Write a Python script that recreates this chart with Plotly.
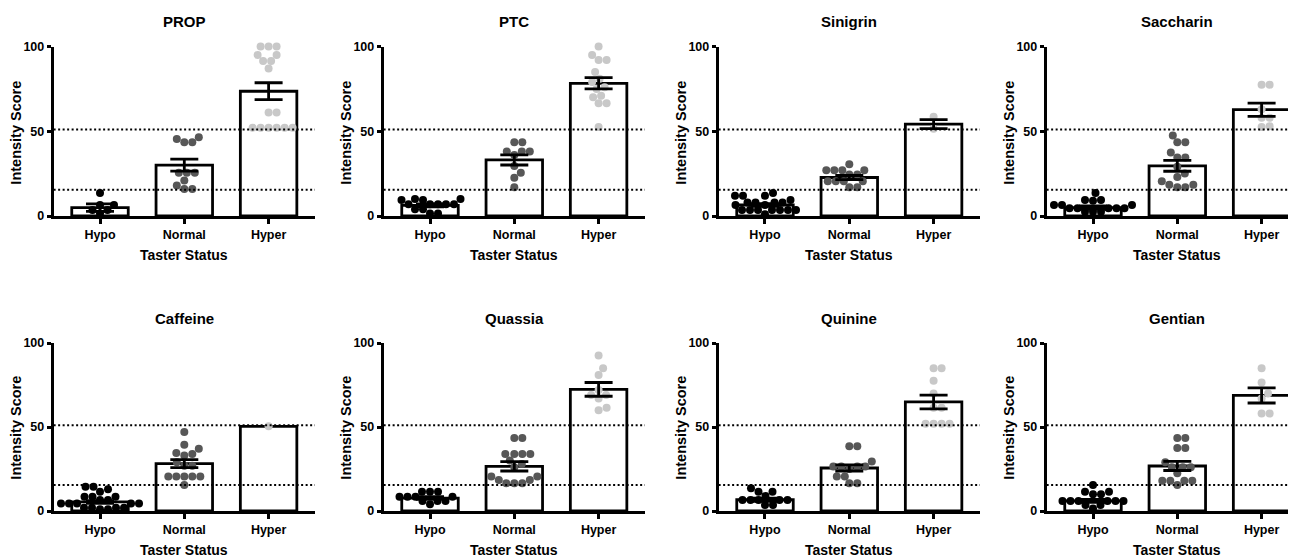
import plotly.graph_objects as go

W, H = 1296, 558

categories = ["Hypo", "Normal", "Hyper"]
compounds = ["PROP", "PTC", "Sinigrin", "Saccharin", "Caffeine", "Quassia", "Quinine", "Gentian"]

# Bar heights (means) and SEM, in compound order
mean_hypo = [4.9, 6.3, 6.5, 4.9, 5.4, 7.7, 6.7, 6.0]
mean_normal = [30.0, 33.1, 22.7, 29.6, 28.2, 26.6, 25.6, 26.8]
mean_hyper = [73.6, 78.3, 54.2, 62.7, 50.4, 72.4, 64.9, 68.8]
sem_hypo = [2.2, 0.9, 0.8, 1.0, 0.8, 0.8, 0.9, 0.9]
sem_normal = [3.5, 3.0, 1.2, 3.2, 2.4, 2.8, 1.8, 2.7]
sem_hyper = [5.0, 3.3, 2.6, 3.9, None, 4.1, 4.1, 4.5]

# Individual scores
prop_hypo = [13.5, 6.5, 6.5, 3.5, 3.5, 1.5]
prop_normal = [46.5, 45.5, 43.5, 43.5, 25.5, 25.5, 25.5, 21, 18, 16, 16]
prop_hyper = [100, 100, 100, 95, 95, 91.5, 91.5, 87, 61, 61, 52, 52, 52, 52, 52, 52]

ptc_hypo = [10, 10, 9.5, 9.5, 7, 7, 7, 7, 7, 4, 4, 1.5, 1.5]
ptc_normal = [43.5, 43.5, 38, 38, 38, 36, 29.5, 25.5, 22.5, 17]
ptc_hyper = [100, 95, 92, 92, 85, 81, 79, 76, 75, 71, 70, 66.5, 66.5, 52.5]

sinigrin_hypo = [13.5, 12, 12, 12, 9.5, 8, 8, 8, 8, 6.5, 6.5, 3.5, 3.5, 3.5, 3.5, 3.5, 3.5, 3.5, 1]
sinigrin_normal = [30.5, 27, 27, 27, 27, 24.5, 24.5, 20.5, 20.5, 20.5, 20.5, 17, 17]
sinigrin_hyper = [58.5, 51.5]

saccharin_hypo = [13.5, 9.5, 9.5, 9, 6.5, 6.5, 6.5, 4.5, 4.5, 4.5, 4.5, 4.5, 2.5, 2.5, 2.5]
saccharin_normal = [47.5, 43.5, 43.5, 37.5, 34.5, 34.5, 29, 25, 23, 20.5, 18.5, 18.5, 17, 17]
saccharin_hyper = [77.5, 77.5, 63, 58, 58, 53, 52.5]

caffeine_hypo = [14.5, 14.5, 13, 11.5, 8.5, 8.5, 8.5, 6.5, 6.5, 4.5, 4.5, 4.5, 4.5, 4.5, 4.5, 2, 2, 2, 2, 1, 1]
caffeine_normal = [47, 39.5, 37, 34.5, 34, 33, 29, 27, 27, 20.5, 20.5, 20.5, 20.5, 20.5, 15.5]
caffeine_hyper = [50.5]

quassia_hypo = [11.5, 11.5, 11.5, 8.5, 8.5, 8.5, 8.5, 6, 6, 6, 4]
quassia_normal = [43.5, 43.5, 34, 34, 34, 34, 30, 28, 26, 20.5, 20.5, 18.5, 18.5, 16.5, 16.5, 16.5]
quassia_hyper = [92.5, 85, 81, 72, 69, 69, 67, 61.5, 60]

quinine_hypo = [13.5, 11.5, 11.5, 9, 6.5, 6.5, 6.5, 6.5, 6.5, 3.5, 3.5]
quinine_normal = [38.5, 38.5, 29.5, 26.5, 26.5, 26.5, 26.5, 25, 20.5, 20.5, 16.5, 16.5]
quinine_hyper = [85, 85, 77.5, 70, 61.5, 61.5, 52, 52, 52, 52]

gentian_hypo = [15.5, 11.5, 11.5, 10, 10, 6, 6, 6, 6, 6, 6, 3.5, 3.5, 1.5]
gentian_normal = [43.5, 43.5, 37.5, 37.5, 29, 26, 26, 26, 22.5, 18, 18, 18, 18, 15.5]
gentian_hyper = [85, 76.5, 70, 67, 58, 58]

cutoff_lines = [51, 15.5]
y_ticks = [0, 50, 100]
x_title = "Taster Status"
y_title = "Intensity Score"

scores = [
    [prop_hypo, prop_normal, prop_hyper],
    [ptc_hypo, ptc_normal, ptc_hyper],
    [sinigrin_hypo, sinigrin_normal, sinigrin_hyper],
    [saccharin_hypo, saccharin_normal, saccharin_hyper],
    [caffeine_hypo, caffeine_normal, caffeine_hyper],
    [quassia_hypo, quassia_normal, quassia_hyper],
    [quinine_hypo, quinine_normal, quinine_hyper],
    [gentian_hypo, gentian_normal, gentian_hyper],
]
means = [list(t) for t in zip(mean_hypo, mean_normal, mean_hyper)]
sems = [list(t) for t in zip(sem_hypo, sem_normal, sem_hyper)]

dot_colors = ["#000000", "#575757", "#c8c8c8"]
FONT = "Arial, Liberation Sans, sans-serif"

# ---- layout geometry (screen pixels; the page body adds an 8px margin) ----
OFF = 8
FW, FH = W - OFF, H - OFF
cat_px = 84.3
hypo_centers = [100, 430, 765, 1093]
rows_px = [(46.5, 216), (343, 511)]
title_y = [21, 318]
xtitle_y = [255, 550]
ytitle_y = [133, 428]


def fx(px):
    return (px - OFF) / FW


def fy(py):
    return 1 - (py - OFF) / FH


def swarm_offsets(vals, ppy, d=8.0, step=0.5):
    """Compact beeswarm (pixel offsets): each point goes as close to the centre as it can."""
    idx = sorted(range(len(vals)), key=lambda i: vals[i])
    placed = []
    off = [0.0] * len(vals)
    for i in idx:
        y = vals[i] * ppy
        near = [(qx, qy) for qx, qy in placed if abs(qy - y) < d]
        bal = sum(qx for qx, _ in near)
        cands = [0.0]
        for j in range(1, 200):
            a = j * step
            cands += ([-a, a] if bal > 0 else [a, -a])
        x = 0.0
        for x in cands:
            if all((x - qx) ** 2 + (y - qy) ** 2 >= d * d for qx, qy in near):
                break
        off[i] = x
        placed.append((x, y))
    return off


fig = go.Figure()
annotations = []
shapes = []

for k, name in enumerate(compounds):
    r, c = divmod(k, 4)
    ax = "" if k == 0 else str(k + 1)
    xa, ya = "x" + ax, "y" + ax
    hc = hypo_centers[c]
    left_px = hc - 0.55 * cat_px
    right_px = min(hc + 2.55 * cat_px, W)
    x_range = [-0.55, (right_px - hc) / cat_px]
    top_px, bot_px = rows_px[r]
    ppy = (bot_px - top_px) / 100.0

    fig.add_trace(go.Bar(
        x=[0, 1, 2], y=means[k], width=0.67,
        marker=dict(color="white", line=dict(color="black", width=2.8)),
        xaxis=xa, yaxis=ya, showlegend=False, hoverinfo="skip"))

    for g in range(3):
        vals = scores[k][g]
        offs = swarm_offsets(vals, ppy)
        fig.add_trace(go.Scatter(
            x=[g + o / cat_px for o in offs], y=vals, mode="markers",
            marker=dict(size=8, color=dot_colors[g], line=dict(width=0)),
            cliponaxis=False, xaxis=xa, yaxis=ya, showlegend=False))

    eb_x = [g for g in range(3) if sems[k][g] is not None]
    fig.add_trace(go.Scatter(
        x=eb_x, y=[means[k][g] for g in eb_x], mode="markers",
        marker=dict(size=1, color="rgba(0,0,0,0)"),
        error_y=dict(type="data", array=[sems[k][g] for g in eb_x], visible=True,
                     color="black", thickness=2.8, width=14),
        cliponaxis=False, xaxis=xa, yaxis=ya, showlegend=False))

    axis_common = dict(showline=True, linecolor="black", linewidth=2.8,
                       ticks="outside", tickcolor="black", tickwidth=2.5,
                       showgrid=False, zeroline=False, automargin=False,
                       tickfont=dict(family=FONT, size=12.5, color="black", weight="bold"))
    fig.update_layout(**{
        "xaxis" + ax: dict(domain=[fx(left_px), min(fx(right_px), 1)], range=x_range,
                           tickvals=[0, 1, 2], ticktext=categories, ticklen=5,
                           anchor=ya, **axis_common),
        "yaxis" + ax: dict(domain=[fy(bot_px), fy(top_px)], range=[0, 100],
                           tickvals=y_ticks, ticklen=4, anchor=xa, **axis_common),
    })

    for yv in cutoff_lines:
        shapes.append(dict(type="line", xref=xa + " domain", yref=ya,
                           x0=0, x1=1, y0=yv, y1=yv, layer="above",
                           line=dict(color="black", width=2, dash="2px,2.5px")))

    cx = fx(hc + cat_px)
    annotations.append(dict(text=name, x=cx, y=fy(title_y[r]), xref="paper", yref="paper",
                            showarrow=False, xanchor="center", yanchor="middle",
                            font=dict(family=FONT, size=15, color="black", weight="bold")))
    annotations.append(dict(text=x_title, x=cx, y=fy(xtitle_y[r]), xref="paper", yref="paper",
                            showarrow=False, xanchor="center", yanchor="middle",
                            font=dict(family=FONT, size=14, color="black", weight="bold")))
    annotations.append(dict(text=y_title, x=fx(left_px - 38), y=fy(ytitle_y[r]),
                            xref="paper", yref="paper", textangle=-90,
                            showarrow=False, xanchor="center", yanchor="middle",
                            font=dict(family=FONT, size=14.5, color="black", weight="bold")))

fig.update_layout(
    template="none",
    width=FW, height=FH,
    margin=dict(l=0, r=0, t=0, b=0, pad=0, autoexpand=False),
    paper_bgcolor="white", plot_bgcolor="white",
    showlegend=False, barmode="overlay",
    annotations=annotations, shapes=shapes,
    font=dict(family=FONT, color="black"),
)

fig.write_html("out.html")
